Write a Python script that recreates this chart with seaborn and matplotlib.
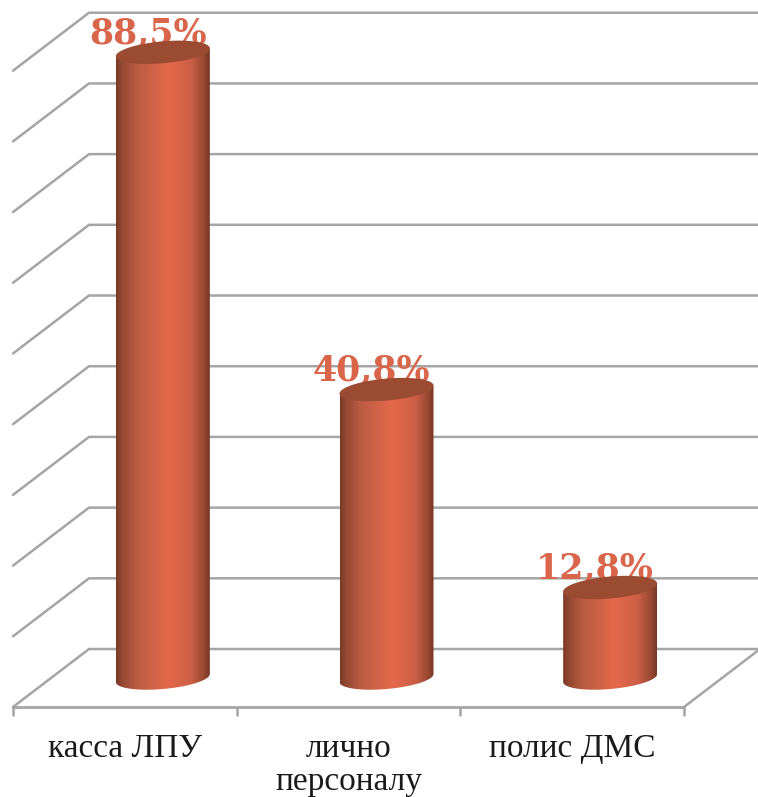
import numpy as np
import pandas as pd
import matplotlib
matplotlib.use("Agg")
import matplotlib.pyplot as plt
from matplotlib.colors import LinearSegmentedColormap
from matplotlib.patches import Polygon
import seaborn as sns

categories = ["касса ЛПУ", "лично\nперсоналу", "полис ДМС"]
values = [88.5, 40.8, 12.8]
labels = ["88,5%", "40,8%", "12,8%"]
grid_values = [0, 10, 20, 30, 40, 50, 60, 70, 80, 90]

sns.set_style("white")
plt.rcParams["font.family"] = ["Liberation Serif", "DejaVu Serif"]

W, H = 758, 797
fig = plt.figure(figsize=(W / 100, H / 100), dpi=100)
# axes spans from first tick to the right edge, x-axis on the front floor edge
ax = fig.add_axes([13 / W, (H - 707) / H, (W - 13) / W, 707 / H])
PX_X = 223.67
PX_Y = 7.07
ax.set_xlim(-0.5, -0.5 + (W - 13) / PX_X)
ax.set_ylim(-4.1, -4.1 + 707 / PX_Y)

df = pd.DataFrame({"cat": categories, "val": values})
sns.barplot(data=df, x="cat", y="val", width=94 / PX_X, color="#D9654A",
            ax=ax, zorder=3, saturation=1)
ax.set_xlim(-0.5, -0.5 + (W - 13) / PX_X)
ax.set_ylim(-4.1, -4.1 + 707 / PX_Y)
ax.set_xlabel("")
ax.set_ylabel("")

# walls and floor
grey = "#a5a5a5"
dx, dy = 76 / PX_X, 8.2
floor = -4.1
for g in grid_values:
    ax.plot([-0.5, -0.5 + dx, 2.5 + dx], [g + floor, g + floor + dy, g + floor + dy],
            color=grey, lw=1.8, zorder=1, clip_on=False, solid_joinstyle="miter")
ax.plot([2.5, 2.5 + dx], [floor, floor + dy], color=grey, lw=1.8, zorder=1, clip_on=False)

# cylinders
cmap = LinearSegmentedColormap.from_list("cyl", [
    (0.00, "#7a3827"), (0.05, "#8f4630"), (0.20, "#b85a41"), (0.55, "#e4694c"),
    (0.80, "#cc5f45"), (0.93, "#9a4a34"), (1.00, "#783726")])
grad = np.linspace(0, 1, 256).reshape(1, -1)
a_c = 47 / PX_X
tilt = 4 / PX_Y
b = 11 / PX_Y
shift = 38 / PX_X
for patch, v, lab in zip(ax.patches, values, labels):
    patch.set_x(patch.get_x() + shift)
    cx = patch.get_x() + patch.get_width() / 2
    t = np.linspace(np.pi, 2 * np.pi, 80)
    bx = cx + a_c * np.cos(t)
    by = b * np.sin(t) + tilt * np.cos(t)
    body = np.column_stack([np.r_[bx, cx + a_c, cx - a_c], np.r_[by, v + tilt, v - tilt]])
    poly = Polygon(body, closed=True, transform=ax.transData, fc="none", ec="none")
    ax.add_patch(poly)
    patch.set_visible(False)
    im = ax.imshow(grad, cmap=cmap, aspect="auto", zorder=3,
                   extent=[cx - a_c, cx + a_c, -5, v + 5])
    im.set_clip_path(poly)
    t2 = np.linspace(0, 2 * np.pi, 160)
    ax.add_patch(Polygon(np.column_stack([cx + a_c * np.cos(t2),
                                          v + b * np.sin(t2) + tilt * np.cos(t2)]),
                         closed=True, fc="#9c4b33", ec="none", zorder=4))
    ax.annotate(lab, (cx, v), xytext=(-15, 9), textcoords="offset pixels",
                ha="center", va="baseline", color="#D9654A", fontsize=25,
                fontweight="bold", family=["DejaVu Serif"], zorder=2)

ax.set_xlim(-0.5, -0.5 + (W - 13) / PX_X)
ax.set_ylim(-4.1, -4.1 + 707 / PX_Y)

# axes dressing
sns.despine(ax=ax, left=True, right=True, top=True)
ax.spines["bottom"].set_bounds(-0.5, 2.5)
ax.spines["bottom"].set_color(grey)
ax.spines["bottom"].set_linewidth(2.0)
ax.set_yticks([])
ax.set_xticks([-0.5, 0.5, 1.5, 2.5])
ax.set_xticklabels([])
ax.set_xticks([0, 1, 2], minor=True)
ax.set_xticklabels(categories, minor=True, fontsize=24, color="#1a1a1a", linespacing=1.12)
ax.tick_params(axis="x", which="major", length=6.5, width=1.8, color=grey, bottom=True)
ax.tick_params(axis="x", which="minor", length=0, pad=19)
ax.patch.set_alpha(0)

fig.savefig("out.png", dpi=100, facecolor="white")
